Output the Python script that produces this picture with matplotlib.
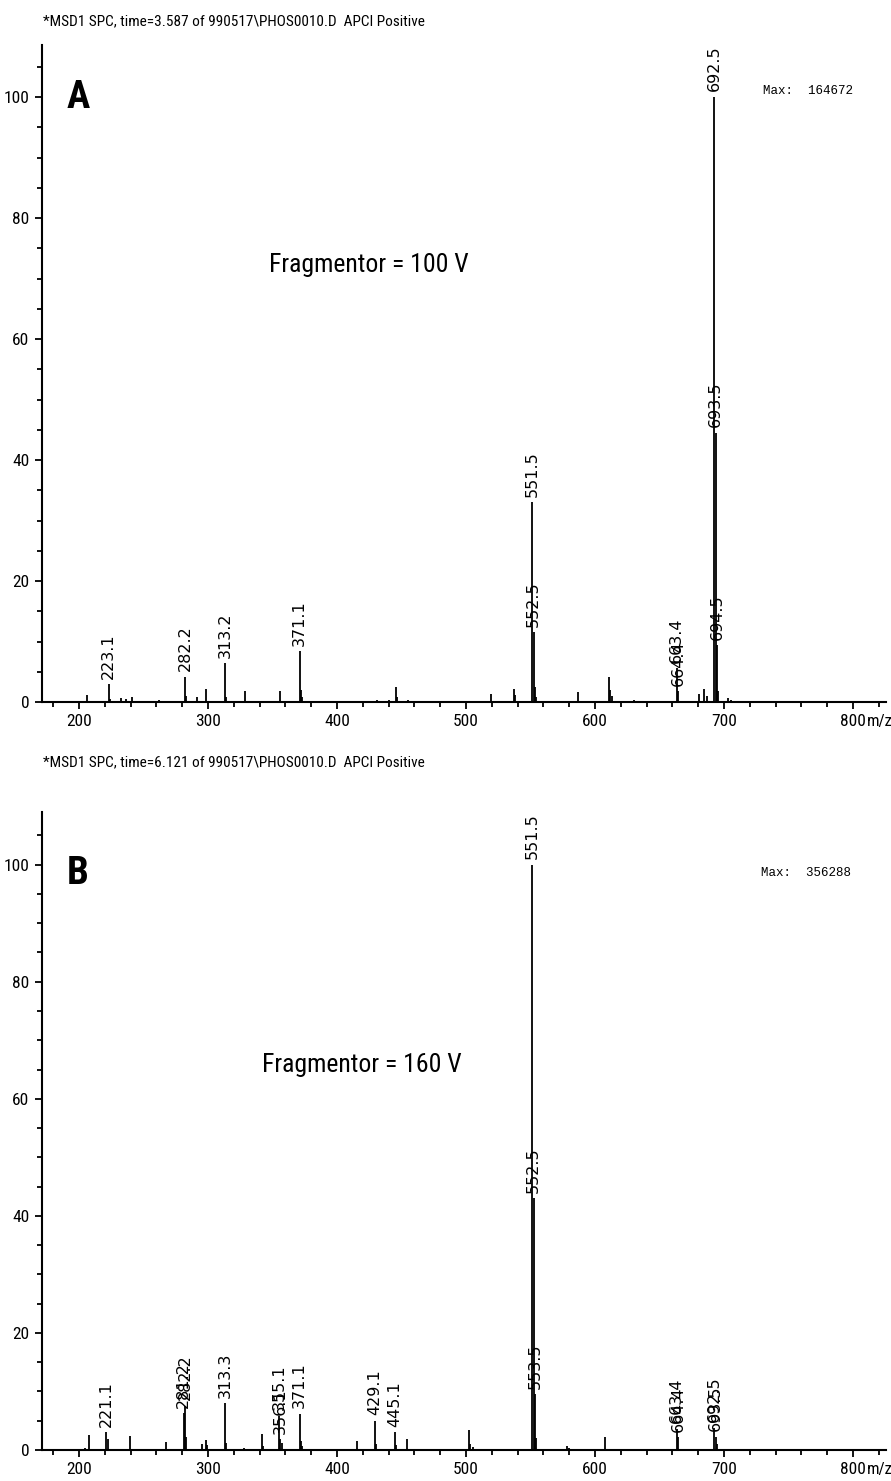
import matplotlib
matplotlib.use('Agg')
import os
import matplotlib.pyplot as plt
from matplotlib import font_manager as fm
from matplotlib.ticker import MultipleLocator, FixedLocator


def pick_font(bold=False):
    prefs = ['LiberationSansNarrow', 'RobotoCondensed', 'Roboto_Condensed',
             'DejaVuSansCondensed', 'OpenSansCondensed', 'OpenSans_Condensed',
             'NotoSansCondensed', 'Condensed', 'Narrow']
    files = [f.fname for f in fm.fontManager.ttflist]
    files += fm.findSystemFonts()
    for p in prefs:
        for fn in files:
            base = os.path.basename(fn).replace('-', '').replace(' ', '')
            if p.replace('_', '') in base.replace('_', ''):
                low = base.lower()
                isbold = 'bold' in low
                if 'italic' in low or 'oblique' in low:
                    continue
                if 'semi' in low or 'light' in low or 'medium' in low or 'black' in low or 'extra' in low or 'thin' in low:
                    continue
                if isbold == bold:
                    return fm.FontProperties(fname=fn)
    return fm.FontProperties(family='Liberation Sans',
                             weight='bold' if bold else 'normal')


NARROW_FP = pick_font(False)
NARROW_BOLD_FP = pick_font(True)
MONO = 'Liberation Mono'


def fp(size, bold=False):
    f = (NARROW_BOLD_FP if bold else NARROW_FP).copy()
    f.set_size(size)
    return f


# ---------------- data ----------------
headers = [r"*MSD1 SPC, time=3.587 of 990517\PHOS0010.D  APCI Positive",
           r"*MSD1 SPC, time=6.121 of 990517\PHOS0010.D  APCI Positive"]
panel_letters = ["A", "B"]
fragmentor = ["Fragmentor = 100 V", "Fragmentor = 160 V"]
max_text = ["Max:  164672", "Max:  356288"]

mz_a = [206.5, 223.1, 224.1, 232.5, 236.8, 240.8, 262.0, 282.2, 283.2, 291.5,
        298.8, 313.2, 314.2, 329.0, 355.5, 371.1, 372.1, 373.1, 431.0, 440.0,
        445.6, 446.6, 455.0, 519.5, 537.0, 538.0, 551.5, 552.5, 553.5, 554.5,
        587.0, 611.0, 612.0, 613.0, 630.0, 663.4, 664.4, 680.8, 684.6, 686.5,
        692.5, 693.5, 694.5, 695.5, 703.5, 705.5]
int_a = [1.1, 2.9, 0.5, 0.7, 0.5, 0.8, 0.4, 4.2, 1.0, 0.8,
         2.1, 6.4, 0.8, 1.8, 1.8, 8.4, 2.0, 0.8, 0.3, 0.3,
         2.5, 0.8, 0.3, 1.3, 2.2, 1.2, 33.0, 11.5, 2.5, 0.8,
         1.6, 4.1, 2.0, 1.0, 0.3, 5.6, 1.8, 1.3, 2.2, 1.0,
         100.0, 44.5, 9.4, 1.8, 0.6, 0.4]
labels_a = ["223.1", "282.2", "313.2", "371.1", "551.5", "552.5",
            "663.4", "664.4", "692.5", "693.5", "694.5"]

mz_b = [205.0, 207.5, 221.1, 222.5, 239.4, 267.8, 281.2, 282.2, 283.2, 295.0,
        298.2, 299.2, 313.3, 314.3, 328.0, 341.8, 342.8, 355.1, 356.1, 357.1,
        371.1, 372.1, 373.1, 415.6, 429.1, 430.1, 445.1, 446.1, 454.6, 502.3,
        503.3, 505.5, 551.5, 552.5, 553.5, 554.5, 578.5, 579.5, 608.0, 663.4,
        664.4, 692.5, 693.5, 694.5]
int_b = [0.3, 2.6, 3.0, 1.9, 2.4, 1.4, 6.3, 7.6, 2.2, 1.1,
         1.7, 0.8, 8.0, 1.2, 0.3, 2.7, 0.6, 5.8, 1.8, 1.2,
         6.2, 1.5, 0.6, 1.5, 5.0, 1.0, 3.0, 0.8, 1.8, 3.5,
         1.0, 0.5, 100.0, 43.0, 9.5, 2.0, 0.6, 0.3, 2.3, 3.6,
         2.2, 3.8, 2.3, 1.0]
labels_b = ["221.1", "281.2", "282.2", "313.3", "355.1", "356.1", "371.1",
            "429.1", "445.1", "551.5", "552.5", "553.5", "663.4", "664.4",
            "692.5", "693.5"]

x_major = [200, 300, 400, 500, 600, 700, 800]
x_major_labels = ["200", "300", "400", "500", "600", "700", "800"]
y_major = [0, 20, 40, 60, 80, 100]

panels = [(mz_a, int_a, labels_a), (mz_b, int_b, labels_b)]

# ---------------- layout ----------------
W, H = 891, 1481
fig = plt.figure(figsize=(W / 100, H / 100), dpi=100)
fig.patch.set_facecolor('white')

ax_px = [  # left, top, right, bottom in pixels
    (42, 45, 886, 702),
    (42, 812, 886, 1450),
]
header_y = [21, 762]
ylims = [108.6, 109.0]
letter_pos = [(199, 100.0), (199, 98.5)]
frag_pos = [(425, 72.2), (419, 65.8)]
max_pos = [(730, 101.0), (729, 98.5)]

for i, (mz, inten, labels) in enumerate(panels):
    l, t, r, b = ax_px[i]
    ax = fig.add_axes([l / W, 1 - b / H, (r - l) / W, (b - t) / H])
    ax.set_xlim(171.3, 825.6)
    ax.set_ylim(0, ylims[i])
    for s in ['top', 'right']:
        ax.spines[s].set_visible(False)
    for s in ['left', 'bottom']:
        ax.spines[s].set_linewidth(1.5)
        ax.spines[s].set_color('black')

    ax.vlines(mz, 0, inten, colors='black', linewidth=1.3)

    ax.xaxis.set_major_locator(FixedLocator(x_major))
    ax.set_xticklabels(x_major_labels, fontproperties=fp(12.5))
    ax.xaxis.set_minor_locator(MultipleLocator(20))
    ax.yaxis.set_major_locator(FixedLocator(y_major))
    ax.set_yticklabels([str(v) for v in y_major], fontproperties=fp(12.5))
    ax.yaxis.set_minor_locator(MultipleLocator(5))
    ax.tick_params(axis='both', which='major', direction='out', length=5,
                   width=1.3, color='black', pad=4)
    ax.tick_params(axis='both', which='minor', direction='out', length=3.6,
                   width=1.3, color='black')

    ax.annotate("m/z", xy=(810.5, 0), xycoords=('data', 'axes fraction'),
                xytext=(0, -8.5), textcoords='offset points', ha='left', va='top',
                fontproperties=fp(12), annotation_clip=False)

    # peak labels
    for lab in labels:
        v = float(lab)
        j = min(range(len(mz)), key=lambda k: abs(mz[k] - v))
        ax.annotate(lab, xy=(mz[j], inten[j]), xytext=(0, 4),
                    textcoords='offset points', rotation=90, ha='center',
                    va='bottom', family='DejaVu Sans', fontsize=11.5,
                    color='black')

    lx, ly = letter_pos[i]
    ax.text(lx, ly, panel_letters[i], ha='center', va='center',
            fontproperties=fp(28, bold=True))
    fx, fy = frag_pos[i]
    ax.text(fx, fy, fragmentor[i], ha='center', va='center',
            fontproperties=fp(18.5))
    mx, my = max_pos[i]
    ax.text(mx, my, max_text[i], ha='left', va='center',
            family=MONO, fontsize=9)

    fig.text(43 / W, 1 - header_y[i] / H, headers[i], ha='left', va='center',
             fontproperties=fp(11))

fig.savefig('out.png', dpi=100, facecolor='white')
